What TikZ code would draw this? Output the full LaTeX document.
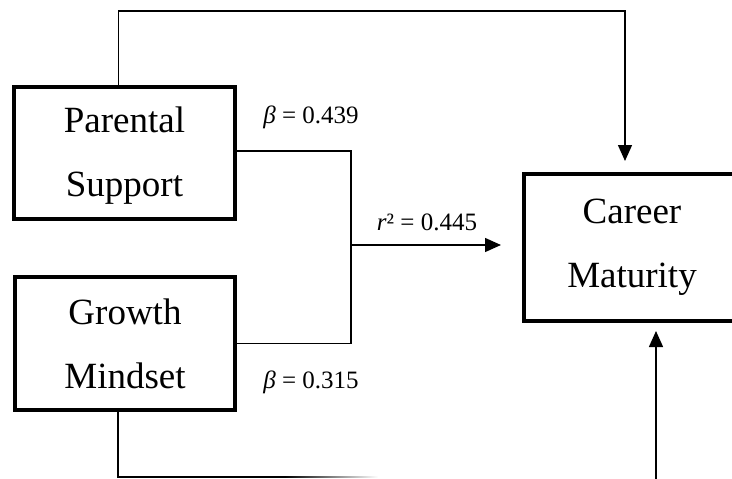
\documentclass[tikz,border=0pt]{standalone}
\usepackage{fontspec}
\setmainfont{Liberation Serif}
\usetikzlibrary{arrows.meta}
\definecolor{pathInk}{HTML}{000000}

\tikzset{
    varbox/.style={draw=pathInk, line width=4.5pt, outer sep=0pt, align=center,
        font=\fontsize{37}{64}\selectfont},
    conn/.style={draw=pathInk, line width=1.4pt},
    tip/.style={conn, -{Triangle[length=16pt,width=14pt]}},
    coef/.style={anchor=base, font=\fontsize{25}{30}\selectfont}
}

\begin{document}
\begin{tikzpicture}[x=1pt, y=-1pt]
    \useasboundingbox (0, 0) rectangle (732, 479);
    \clip (0, 0) rectangle (732, 479);
    \fill[white] (0, 0) rectangle (732, 479);

    \node[varbox, text depth=2pt, minimum width=221pt, minimum height=132pt] (ps) at (124.5, 153) {Parental\\Support};
    \node[varbox, minimum width=220pt, minimum height=133pt] (gm) at (125, 343.5) {Growth\\Mindset};
    \node[varbox, minimum width=216pt, minimum height=147pt] (cm) at (632, 247.5) {Career\\Maturity};

    \coordinate (topbend) at (625, 11);
    \coordinate (jn) at (351, 245);
    \coordinate (btmbend) at (118, 477);
    \coordinate (btmstart) at (656, 479);

    \draw[tip, shorten >=13pt] ([xshift=-6pt]ps.north) |- (topbend) -- (topbend |- cm.north);
    \draw[conn] ([yshift=2pt]ps.east) -| (jn);
    \draw[conn] (gm.east) -| (jn);
    \draw[tip, shorten >=23pt] (jn) -- (jn -| cm.west);
    \draw[conn] ([xshift=-7pt]gm.south) -- (btmbend) -- (285, 477);
    \shade[left color=pathInk, right color=white] (285, 476.3) rectangle (378, 477.7);
    \draw[tip, shorten >=10pt] (btmstart) -- (btmstart |- cm.south);

    \node[coef] (b1) at (311, 123) {\textit{β} = 0.439};
    \node[coef] (b2) at (311, 388) {\textit{β} = 0.315};
    \node[coef] (r2) at (427, 230) {\textit{r}² = 0.445};
\end{tikzpicture}
\end{document}
